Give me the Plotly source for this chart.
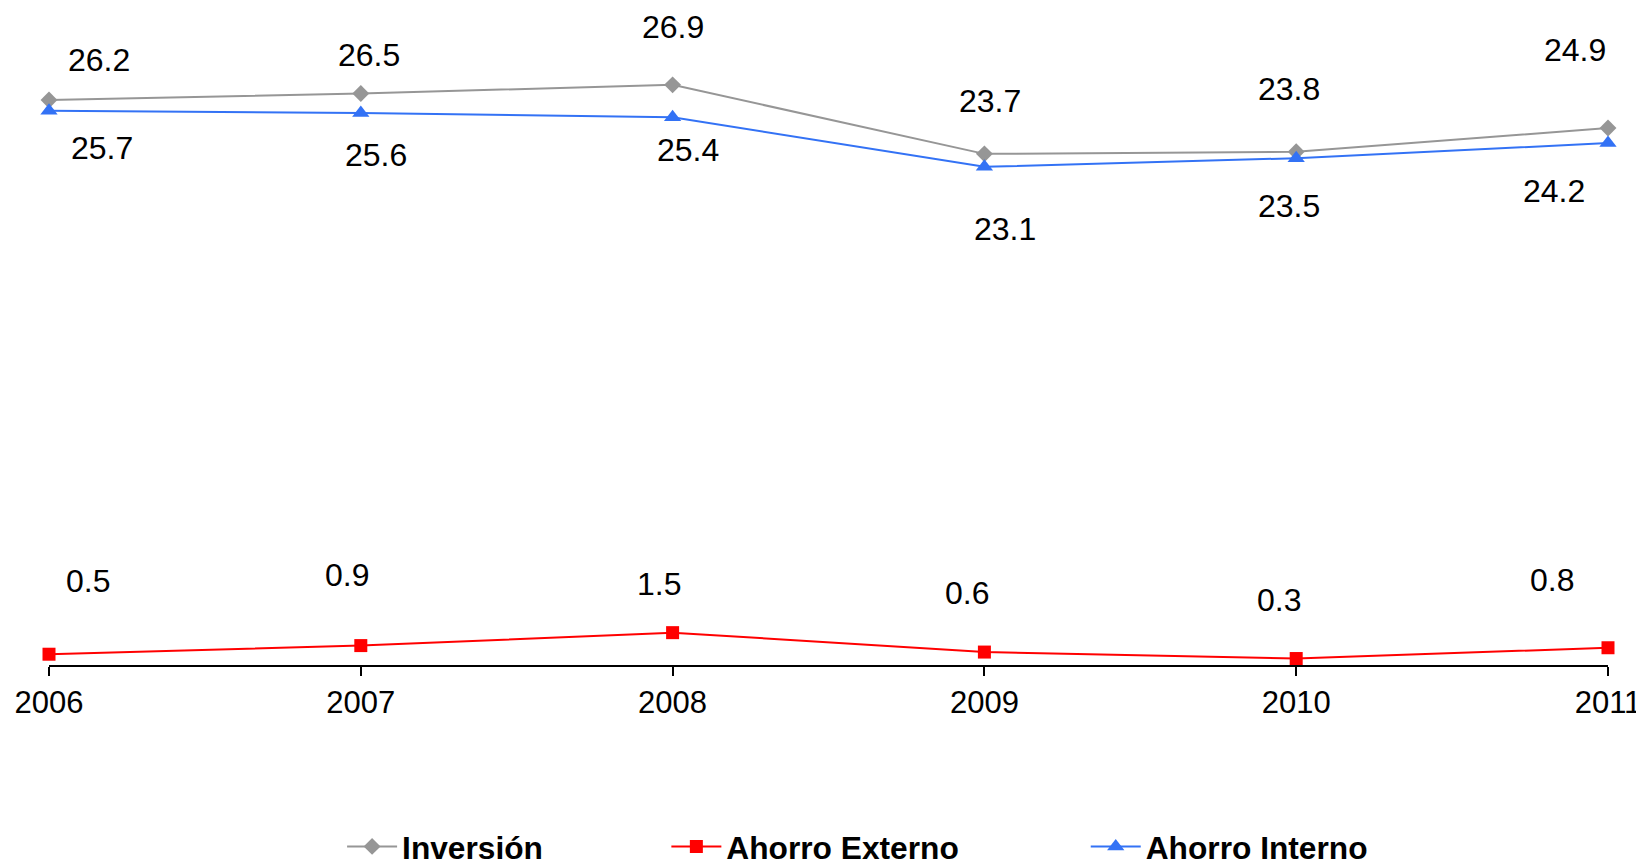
import plotly.graph_objects as go

years = [2006, 2007, 2008, 2009, 2010, 2011]
inversion = [26.2, 26.5, 26.9, 23.7, 23.8, 24.9]
ahorro_externo = [0.5, 0.9, 1.5, 0.6, 0.3, 0.8]
ahorro_interno = [25.7, 25.6, 25.4, 23.1, 23.5, 24.2]

# label offsets in px (moved by hand in the original)
inv_shift = [(50, 40), (8, 38), (0, 58), (6, 53), (-7, 63), (-33, 78)]
ext_shift = [(39, 73), (-14, 71), (-14, 49), (-17, 59), (-17, 59), (-56, 68)]
int_shift = [(53, -37), (15, -42), (15, -33), (21, -62), (-7, -48), (-54, -48)]

fam = 'Arial, Liberation Sans, sans-serif'
font_dict = dict(family=fam, size=32, color='black')
tick_font = dict(family=fam, size=31, color='black')
legend_font = dict(family=fam, size=31.7, color='black', weight='bold')

fig = go.Figure()
fig.add_trace(go.Scatter(x=years, y=inversion, name='Inversión', mode='lines+markers',
                         line=dict(color='#969696', width=2),
                         marker=dict(symbol='diamond', size=13, color='#969696'),
                         cliponaxis=False, legend='legend'))
fig.add_trace(go.Scatter(x=years, y=ahorro_externo, name='Ahorro Externo', mode='lines+markers',
                         line=dict(color='#ff0000', width=2),
                         marker=dict(symbol='square', size=13, color='#ff0000'),
                         cliponaxis=False, legend='legend2'))
fig.add_trace(go.Scatter(x=years, y=ahorro_interno, name='Ahorro Interno', mode='lines+markers',
                         line=dict(color='#3372f5', width=2),
                         marker=dict(symbol='triangle-up', size=15, color='#3372f5'),
                         cliponaxis=False, legend='legend3'))

for vals, shifts in [(inversion, inv_shift), (ahorro_externo, ext_shift), (ahorro_interno, int_shift)]:
    for yr, v, (dx, dy) in zip(years, vals, shifts):
        fig.add_annotation(x=yr, y=v, text=f'{v:.1f}', showarrow=False,
                           xshift=dx, yshift=dy, font=font_dict)

leg = dict(orientation='h', xanchor='left', y=-0.281, yanchor='middle',
           font=legend_font, itemwidth=50, bgcolor='rgba(0,0,0,0)')

# page body adds an 8px margin, so the figure is sized 8px smaller
fig.update_layout(
    width=1636, height=855,
    font=font_dict,
    plot_bgcolor='white',
    paper_bgcolor='white',
    margin=dict(l=41, r=36, t=10, b=198, autoexpand=False),
    showlegend=True,
    legend=dict(leg, x=0.188),
    legend2=dict(leg, x=0.396),
    legend3=dict(leg, x=0.665),
)
fig.update_xaxes(
    range=[2006, 2011],
    tickvals=years,
    ticktext=[str(y) for y in years],
    showline=True, linecolor='black', linewidth=2,
    ticks='outside', ticklen=9, tickwidth=2, tickcolor='black',
    tickfont=tick_font,
    ticklabelstandoff=0,
    automargin=False,
    showgrid=False, zeroline=False,
)
fig.update_yaxes(range=[0, 30], visible=False, showgrid=False, zeroline=False, automargin=False)

fig.write_html('out.html')
